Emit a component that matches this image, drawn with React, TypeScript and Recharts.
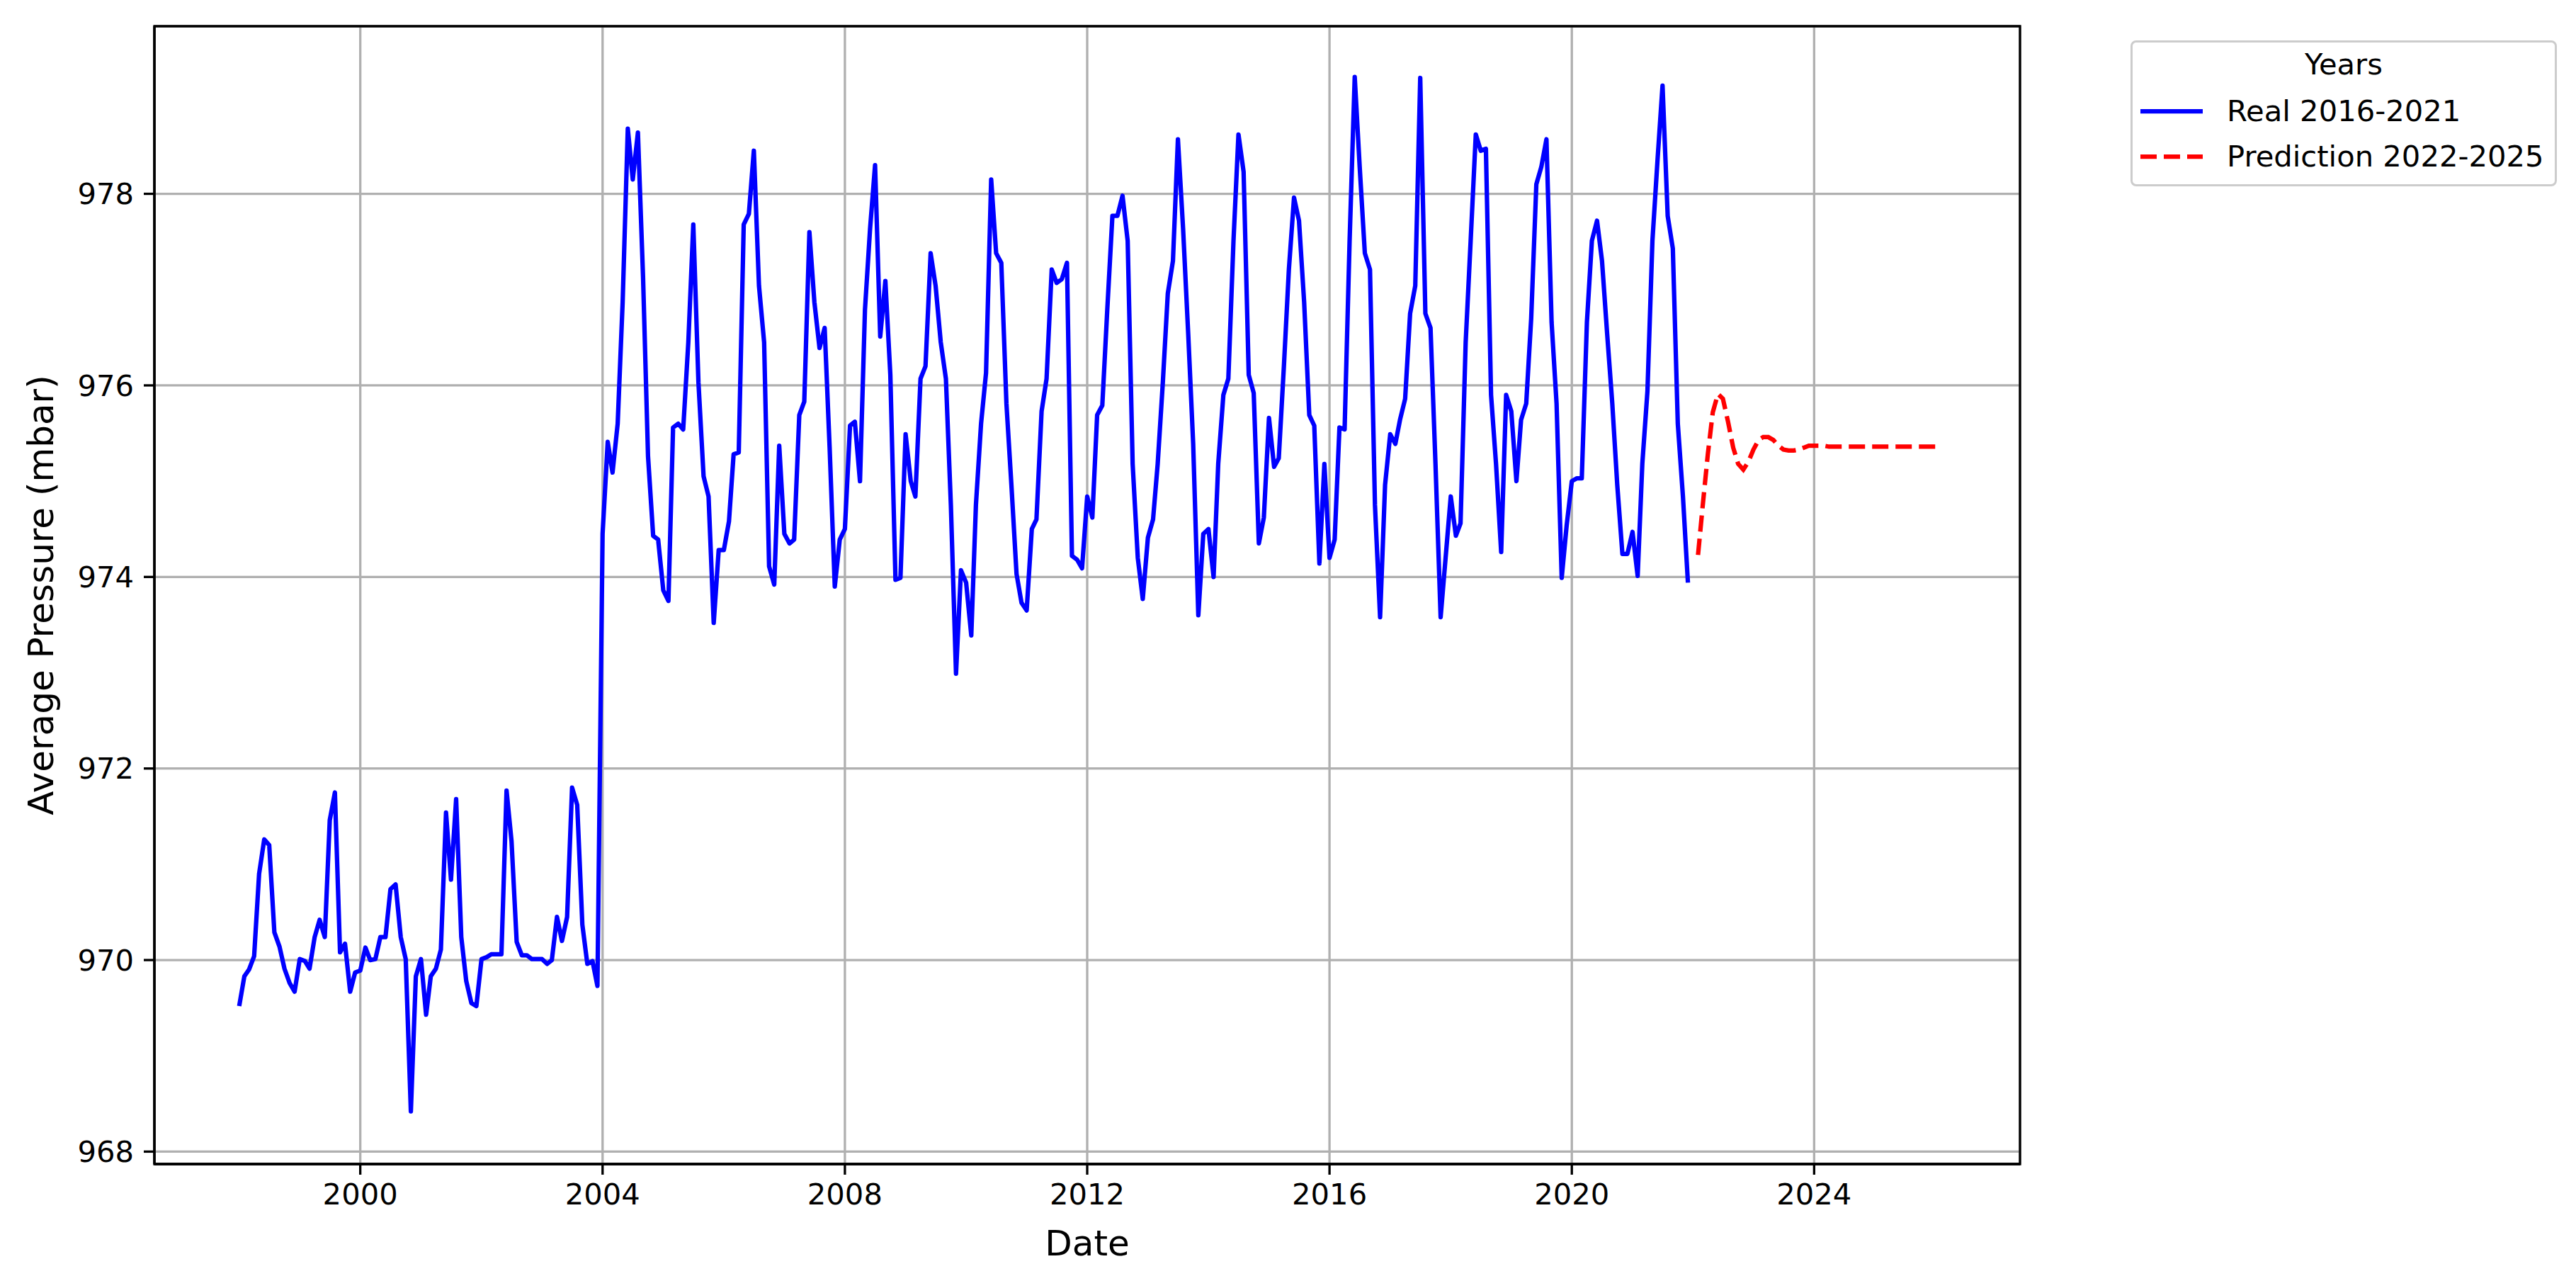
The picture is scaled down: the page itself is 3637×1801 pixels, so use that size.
import { LineChart, Line, XAxis, YAxis, CartesianGrid, Legend, ReferenceArea } from 'recharts';

// monthly means, first day of each month
const real1998_2003 = [
  969.52, 969.83, 969.9, 970.04, 970.9, 971.26, 971.2, 970.29, 970.14, 969.91, 969.76, 969.67,
  970.01, 969.99, 969.91, 970.24, 970.42, 970.24, 971.46, 971.75, 970.08, 970.17, 969.67, 969.87,
  969.89, 970.13, 970.0, 970.01, 970.24, 970.24, 970.74, 970.79, 970.24, 970.01, 968.42, 969.83,
  970.01, 969.43, 969.83, 969.91, 970.11, 971.54, 970.84, 971.68, 970.24, 969.78, 969.55, 969.52,
  970.01, 970.03, 970.06, 970.06, 970.06, 971.77, 971.24, 970.19, 970.05, 970.05, 970.01, 970.01,
  970.01, 969.96, 970.0, 970.45, 970.2, 970.45, 971.8, 971.62, 970.37, 969.96, 969.99, 969.73,
];

const real2004_2009 = [
  974.45, 975.41, 975.09, 975.6, 976.87, 978.68, 978.15, 978.64, 977.13, 975.26, 974.43, 974.39,
  973.86, 973.75, 975.56, 975.6, 975.54, 976.45, 977.68, 976.03, 975.05, 974.84, 973.52, 974.28,
  974.28, 974.58, 975.28, 975.3, 977.68, 977.79, 978.45, 977.04, 976.45, 974.11, 973.92, 975.37,
  974.45, 974.35, 974.39, 975.69, 975.83, 977.6, 976.87, 976.39, 976.6, 975.35, 973.9, 974.39,
  974.5, 975.58, 975.62, 975.0, 976.79, 977.64, 978.3, 976.51, 977.09, 976.11, 973.97, 973.99,
  975.49, 975.0, 974.84, 976.07, 976.2, 977.38, 977.04, 976.45, 976.07, 974.75, 972.99, 974.07,
];

const real2010_2015 = [
  973.94, 973.39, 974.75, 975.6, 976.13, 978.15, 977.38, 977.28, 975.81, 974.96, 974.03, 973.73,
  973.65, 974.5, 974.6, 975.73, 976.07, 977.21, 977.07, 977.11, 977.28, 974.22, 974.18, 974.09,
  974.84, 974.62, 975.69, 975.79, 976.79, 977.77, 977.77, 977.98, 977.51, 975.18, 974.2, 973.77,
  974.41, 974.6, 975.18, 976.03, 976.96, 977.3, 978.57, 977.64, 976.54, 975.39, 973.6, 974.45,
  974.5, 974.0, 975.18, 975.9, 976.07, 977.51, 978.62, 978.23, 976.11, 975.92, 974.35, 974.62,
  975.66, 975.15, 975.24, 976.2, 977.21, 977.96, 977.72, 976.87, 975.69, 975.58, 974.14, 975.18,
];

const real2016_2021 = [
  974.2, 974.39, 975.56, 975.54, 977.5, 979.22, 978.28, 977.38, 977.21, 974.75, 973.58, 974.96,
  975.49, 975.39, 975.64, 975.86, 976.75, 977.04, 979.21, 976.75, 976.6, 975.18, 973.58, 974.2,
  974.84, 974.43, 974.56, 976.45, 977.51, 978.62, 978.45, 978.47, 975.9, 975.18, 974.26, 975.9,
  975.73, 975.0, 975.64, 975.81, 976.7, 978.1, 978.28, 978.57, 976.66, 975.81, 973.99, 974.54,
  975.0, 975.03, 975.03, 976.66, 977.51, 977.72, 977.3, 976.54, 975.81, 974.96, 974.24, 974.24,
  974.47, 974.01, 975.18, 975.94, 977.51, 978.36, 979.13, 977.77, 977.43, 975.6, 974.84, 973.94,
];

// forecast, last day of each month
const prediction2022_2025 = [
  974.23, 974.74, 975.28, 975.72, 975.91, 975.86, 975.62, 975.35, 975.18, 975.12, 975.2, 975.33,
  975.43, 975.46, 975.46, 975.43, 975.37, 975.33, 975.32, 975.32, 975.33, 975.35, 975.37, 975.37,
  975.37, 975.37, 975.36, 975.36, 975.36, 975.36, 975.36, 975.36, 975.36, 975.36, 975.36, 975.36,
  975.36, 975.36, 975.36, 975.36, 975.36, 975.36, 975.36, 975.36, 975.36, 975.36, 975.36, 975.36,
];

const yearTicks = [2000, 2004, 2008, 2012, 2016, 2020, 2024];
const pressureTicks = [968, 970, 972, 974, 976, 978];
const pressureDomain = [967.87, 979.75];

const realData = [...real1998_2003, ...real2004_2009, ...real2010_2015, ...real2016_2021].map((value, i) => ({
  ts: Date.UTC(1998, i, 1),
  value,
}));
const predictionData = prediction2022_2025.map((value, i) => ({ ts: Date.UTC(2022, i + 1, 0), value }));

const tsMin = realData[0].ts;
const tsMax = predictionData[predictionData.length - 1].ts;
const pad = (tsMax - tsMin) * 0.05;
const timeDomain = [tsMin - pad, tsMax + pad];
const timeTicks = yearTicks.map(y => Date.UTC(y, 0, 1));

const FONT = 'DejaVu Sans';
const spine = { stroke: '#000', strokeWidth: 3.3 };
const tickStyle = { fontSize: 41.7, fill: '#000', fontFamily: FONT };

const legendItems = [
  { label: 'Real 2016-2021', color: '#0000ff', dash: undefined as string | undefined },
  { label: 'Prediction 2022-2025', color: '#ff0000', dash: '23 10' },
];

function YearsLegend() {
  return (
    <div
      style={{
        position: 'relative',
        width: 602,
        height: 206,
        boxSizing: 'border-box',
        border: '3px solid #cccccc',
        borderRadius: 8,
        background: 'rgba(255,255,255,0.8)',
        fontFamily: FONT,
        fontSize: 41.7,
        color: '#000',
        lineHeight: 1,
      }}
    >
      <div style={{ position: 'absolute', left: 0, right: 0, top: 31, textAlign: 'center', transform: 'translateY(-50%)' }}>
        Years
      </div>
      {legendItems.map((item, i) => (
        <div key={item.label} style={{ position: 'absolute', left: 9, top: 97 + i * 64, transform: 'translateY(-50%)', display: 'flex', alignItems: 'center' }}>
          <svg width={92} height={10} style={{ display: 'block' }}>
            <line x1={2} y1={5} x2={90} y2={5} stroke={item.color} strokeWidth={6.25} strokeDasharray={item.dash} />
          </svg>
          <span style={{ marginLeft: 32, whiteSpace: 'nowrap' }}>{item.label}</span>
        </div>
      ))}
    </div>
  );
}

const renderDateLabel = (props: any) => {
  const { x, y, width } = props.viewBox;
  return (
    <text x={x + width / 2} y={y + 129} textAnchor="middle" fontSize={50} fontFamily={FONT} fill="#000">
      Date
    </text>
  );
};

const renderPressureLabel = (props: any) => {
  const { x, y, height } = props.viewBox;
  const cx = x + 58;
  const cy = y + height / 2;
  return (
    <text
      x={cx}
      y={cy}
      transform={`rotate(-90 ${cx} ${cy})`}
      textAnchor="middle"
      dominantBaseline="central"
      fontSize={50}
      fontFamily={FONT}
      fill="#000"
    >
      Average Pressure (mbar)
    </text>
  );
};

export default function App() {
  return (
    <div style={{ position: 'absolute', left: 0, top: 0, width: 3637, height: 1801, background: '#fff', fontFamily: FONT }}>
      <LineChart width={3637} height={1801} margin={{ top: 37, right: 785, bottom: 0, left: 0 }}>
        <CartesianGrid stroke="#b0b0b0" strokeWidth={3.3} />
        <XAxis
          dataKey="ts"
          type="number"
          domain={timeDomain}
          allowDataOverflow
          ticks={timeTicks}
          interval={0}
          tickFormatter={(v) => String(new Date(Number(v)).getUTCFullYear())}
          tick={tickStyle}
          tickSize={15}
          tickMargin={12}
          tickLine={spine}
          axisLine={spine}
          height={158}
          label={renderDateLabel}
        />
        <XAxis xAxisId="top" orientation="top" type="number" domain={timeDomain} allowDataOverflow tick={false} tickLine={false} axisLine={spine} height={0} />
        <YAxis
          type="number"
          domain={pressureDomain}
          allowDataOverflow
          ticks={pressureTicks}
          interval={0}
          tick={tickStyle}
          tickSize={15}
          tickMargin={14}
          tickLine={spine}
          axisLine={spine}
          width={218}
          label={renderPressureLabel}
        />
        <YAxis yAxisId="right" orientation="right" type="number" domain={pressureDomain} allowDataOverflow tick={false} tickLine={false} axisLine={spine} width={0} />
        {/* plot frame: all four spines */}
        <ReferenceArea
          x1={timeDomain[0]}
          x2={timeDomain[1]}
          y1={pressureDomain[0]}
          y2={pressureDomain[1]}
          fill="none"
          fillOpacity={0}
          stroke="#000"
          strokeWidth={3.3}
          ifOverflow="visible"
        />
        <Line
          data={realData}
          dataKey="value"
          name="Real 2016-2021"
          type="linear"
          stroke="#0000ff"
          strokeWidth={6.25}
          strokeLinejoin="round"
          dot={false}
          activeDot={false}
          isAnimationActive={false}
        />
        <Line
          data={predictionData}
          dataKey="value"
          name="Prediction 2022-2025"
          type="linear"
          stroke="#ff0000"
          strokeWidth={6.25}
          strokeDasharray="23 10"
          dot={false}
          activeDot={false}
          isAnimationActive={false}
        />
        <Legend
          layout="horizontal"
          verticalAlign="middle"
          align="center"
          wrapperStyle={{ left: 3008, top: 57, width: 602, height: 206 }}
          content={() => <YearsLegend />}
        />
      </LineChart>
    </div>
  );
}
